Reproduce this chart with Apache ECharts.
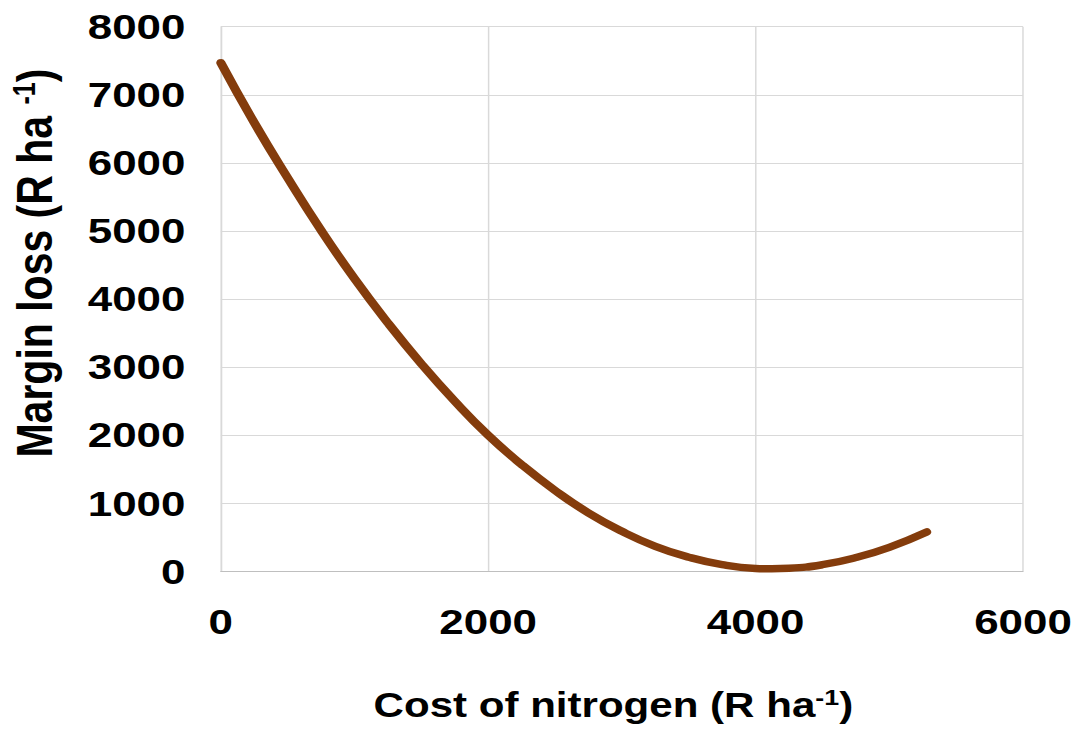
<!DOCTYPE html>
<html>
<head>
<meta charset="utf-8">
<title>Margin loss vs cost of nitrogen</title>
<script src="https://cdn.jsdelivr.net/npm/echarts@6/dist/echarts.min.js"></script>
<style>
  html, body { margin: 0; padding: 0; background: #ffffff; overflow: hidden; }
  #chart { position: absolute; left: 0; top: 0; height: 731px; transform-origin: 0 0; }
</style>
</head>
<body>
<div id="chart"></div>
<script>
// Cost of nitrogen (R/ha) and the resulting margin loss (R/ha)
const costOfNitrogen = [0, 250, 500, 750, 1000, 1250, 1500, 1750, 2000, 2250, 2500, 2750,
                        3000, 3250, 3500, 3750, 4000, 4120, 4250, 4500, 4750, 5000, 5280];
const marginLoss     = [7470, 6590, 5780, 5010, 4300, 3650, 3050, 2500, 2000, 1570, 1190, 860,
                        590, 370, 210, 100, 45, 40, 47, 100, 205, 355, 580];

const xTicks = { min: 0, max: 6000, interval: 2000 };
const yTicks = { min: 0, max: 8000, interval: 1000 };

const xTitle = 'Cost of nitrogen (R ha{sup|-1})';
const yTitle = 'Margin loss (R ha {sup|-1})';

// The figure is laid out in a narrower frame and widened horizontally.
const STRETCH = 1.22;
const el = document.getElementById('chart');
el.style.width = (1076 / STRETCH) + 'px';
el.style.transform = 'scaleX(' + STRETCH + ')';

const FONT = '"Liberation Sans", Arial, sans-serif';
const points = costOfNitrogen.map((c, i) => [c, marginLoss[i]]);
const plain = v => String(v);

const chart = echarts.init(el, null, { renderer: 'svg' });
chart.setOption({
  animation: false,
  backgroundColor: '#ffffff',
  grid: { left: 178.9, right: 43.5, top: 26.7, bottom: 159.5, containLabel: false },
  xAxis: {
    type: 'value',
    min: xTicks.min, max: xTicks.max, interval: xTicks.interval,
    name: xTitle,
    nameLocation: 'middle',
    nameGap: 115,
    nameTextStyle: {
      fontFamily: FONT, fontWeight: 'bold', fontSize: 34.5, color: '#000',
      padding: [0, 14, 0, 0],
      rich: { sup: { fontFamily: FONT, fontWeight: 'bold', fontSize: 22, color: '#000', verticalAlign: 'top', padding: [0, 0, 14, 0] } }
    },
    axisLine: { show: true, lineStyle: { color: '#bfbfbf', width: 1 } },
    axisTick: { show: false },
    axisLabel: { fontFamily: FONT, fontWeight: 'bold', fontSize: 36, color: '#000', margin: 32, formatter: plain },
    splitLine: { show: true, lineStyle: { color: '#d9d9d9', width: 1.2 } }
  },
  yAxis: {
    type: 'value',
    min: yTicks.min, max: yTicks.max, interval: yTicks.interval,
    name: yTitle,
    nameLocation: 'middle',
    nameRotate: 90,
    nameGap: 131,
    nameTextStyle: {
      fontFamily: FONT, fontWeight: 'bold', fontSize: 41, color: '#000',
      padding: [0, 0, 0, 72],
      rich: { sup: { fontFamily: FONT, fontWeight: 'bold', fontSize: 25, color: '#000', verticalAlign: 'top', padding: [0, 0, 17, 0] } }
    },
    axisLine: { show: true, lineStyle: { color: '#d9d9d9', width: 1.2 } },
    axisTick: { show: false },
    axisLabel: { fontFamily: FONT, fontWeight: 'bold', fontSize: 36, color: '#000', margin: 29, formatter: plain },
    splitLine: { show: true, lineStyle: { color: '#d9d9d9', width: 1 } }
  },
  series: [{
    type: 'line',
    data: points,
    smooth: true,
    showSymbol: false,
    clip: false,
    lineStyle: { color: '#843c0c', width: 7.5, cap: 'round', join: 'round' }
  }]
});
</script>
</body>
</html>
